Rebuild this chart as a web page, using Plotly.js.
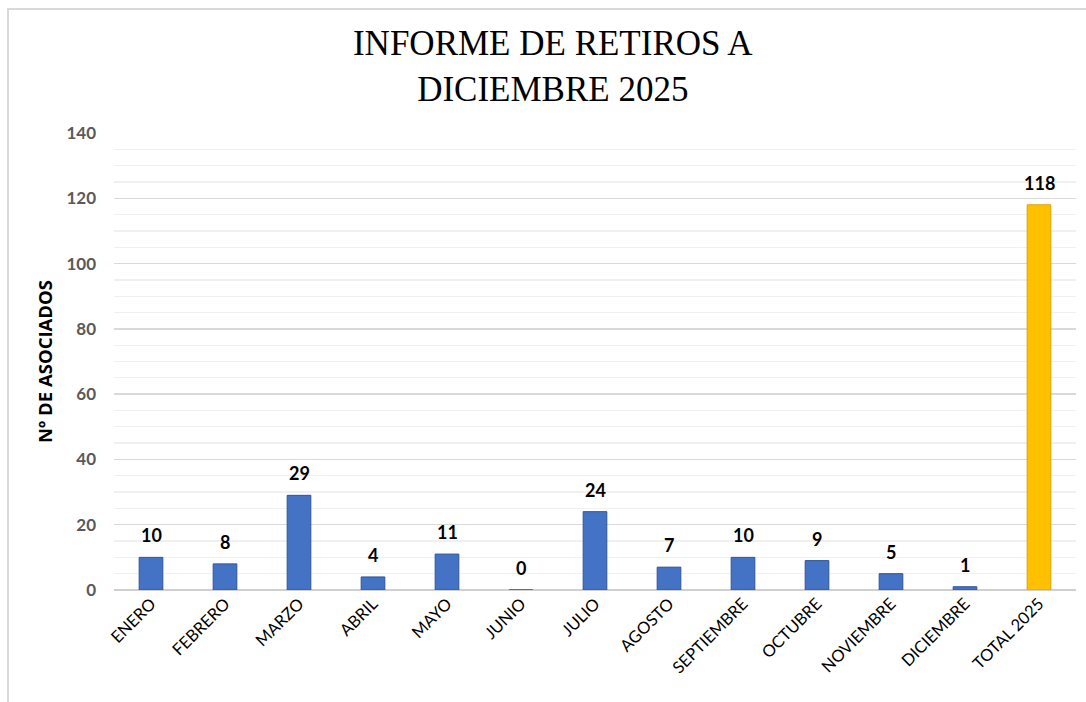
<!DOCTYPE html>
<html>
<head>
<meta charset="utf-8">
<script src="https://cdn.plot.ly/plotly-3.0.1.min.js"></script>
<style>html,body{margin:0;padding:0;background:#fff;}#chart{width:1086px;height:702px;}</style>
</head>
<body>
<div id="chart"></div>
<script>
const categories = ["ENERO","FEBRERO","MARZO","ABRIL","MAYO","JUNIO","JULIO","AGOSTO","SEPTIEMBRE","OCTUBRE","NOVIEMBRE","DICIEMBRE","TOTAL 2025"];
const values = [10, 8, 29, 4, 11, 0, 24, 7, 10, 9, 5, 1, 118];
const isTotal = [false,false,false,false,false,false,false,false,false,false,false,false,true];
const yTicks = [0, 20, 40, 60, 80, 100, 120, 140];

const fillColors = isTotal.map(t => t ? "#FFC000" : "#4472C4");
const lineColors = isTotal.map(t => t ? "#D9A300" : "#2F5597");

const trace = {
  type: "bar",
  x: categories,
  y: values,
  marker: { color: fillColors, line: { color: lineColors, width: 1 } },
  hoverinfo: "x+y",
  showlegend: false
};

const annotations = categories.map((c, i) => ({
  x: c, y: values[i], xref: "x", yref: "y",
  text: String(values[i]),
  showarrow: false, yanchor: "bottom", yshift: 9,
  font: { family: "Lato, 'DejaVu Sans', sans-serif", size: 18, color: "#000", weight: 700 }
}));

const layout = {
  width: 1086, height: 702,
  paper_bgcolor: "#fff", plot_bgcolor: "#fff",
  margin: { l: 114, r: 10, t: 133, b: 112 },
  title: {
    text: "INFORME DE RETIROS A<br>DICIEMBRE 2025",
    x: 0.509, xref: "container", xanchor: "center",
    y: 0.921, yref: "container", yanchor: "top",
    font: { family: "'Liberation Serif', 'DejaVu Serif', serif", size: 35, color: "#000" }
  },
  bargap: 0.68,
  xaxis: {
    type: "category",
    tickangle: -45,
    tickfont: { family: "Lato, 'DejaVu Sans', sans-serif", size: 16.5, color: "#000" },
    showgrid: false, showline: false, ticks: "", zeroline: false
  },
  yaxis: {
    range: [0, 140],
    tickvals: yTicks,
    tickfont: { family: "Lato, 'DejaVu Sans', sans-serif", size: 17, color: "#595959", weight: 700 },
    ticklabelstandoff: 17,
    gridcolor: "#D9D9D9", gridwidth: 1.3,
    minor: { dtick: 5, showgrid: true, gridcolor: "#F0F0F0", gridwidth: 1.3 },
    zeroline: true, zerolinecolor: "#D0D0D0", zerolinewidth: 2,
    showline: false, ticks: "",
    title: {
      text: "Nº DE ASOCIADOS", standoff: 8,
      font: { family: "'Open Sans', 'DejaVu Sans', sans-serif", size: 18.5, color: "#000", weight: 700 }
    }
  },
  shapes: [{
    type: "rect", xref: "paper", yref: "paper",
    x0: (8 - 114) / 962, x1: (1095 - 114) / 962,
    y0: (590 - 710) / 457, y1: (590 - 9) / 457,
    line: { color: "#D9D9D9", width: 2 }, fillcolor: "rgba(0,0,0,0)", layer: "below"
  }],
  annotations: annotations
};

Plotly.newPlot("chart", [trace], layout, { displayModeBar: false, staticPlot: true });
</script>
</body>
</html>
